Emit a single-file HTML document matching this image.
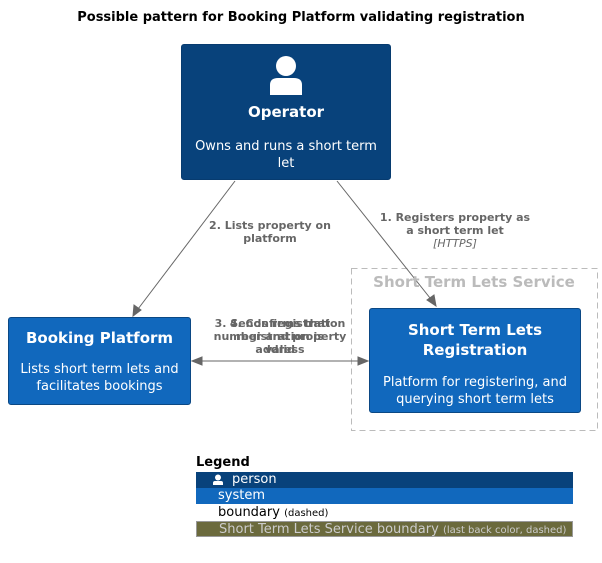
<!DOCTYPE html>
<html><head><style>
body{margin:0;width:602px;height:563px;background:#fff;font-family:"DejaVu Sans","Liberation Sans",sans-serif;position:relative;overflow:hidden}
.a{position:absolute}
.box{position:absolute;border-radius:3px;color:#fff;text-align:center;box-sizing:border-box}
.lbl{position:absolute;color:#666;font-size:11px;font-weight:bold;text-align:center;line-height:13px}
.lg{position:absolute;left:196px;width:377px;height:16px;font-size:13px;line-height:16px;box-sizing:border-box;padding-left:22px;white-space:nowrap;overflow:hidden}
</style></head><body>
<div class="a" style="left:0;width:602px;top:10px;text-align:center;font-weight:bold;font-size:13px">Possible pattern for Booking Platform validating registration</div>
<svg class="a" style="left:0;top:0" width="602" height="563">
<rect x="351.5" y="268.5" width="246" height="162" fill="none" stroke="#bbb" stroke-dasharray="6,4"/>
<g stroke="#666" stroke-width="1" fill="#666">
<line x1="235" y1="181" x2="135" y2="313"/>
<polygon points="133,316 134,305 141,310"/>
<line x1="337" y1="181" x2="434" y2="303"/>
<polygon points="436,306 427,300 434,295"/>
<line x1="195" y1="361" x2="365" y2="361"/>
<polygon points="192,361 202,357 202,365"/>
<polygon points="368,361 358,357 358,365"/>
</g>
</svg>
<div class="a" style="left:351px;width:246px;top:273px;text-align:center;color:#bbb;font-size:15px;font-weight:bold">Short Term Lets Service</div>
<div class="box" style="left:181px;top:44px;width:210px;height:136px;background:#08427b;border:1px solid #073b6f">
<svg width="34" height="40" style="margin-top:10px"><circle cx="17" cy="11" r="10" fill="#fff"/><path d="M1 40 V30 Q1 23 9 23 H25 Q33 23 33 30 V40 Z" fill="#fff"/></svg>
<div style="font-weight:bold;font-size:15px;margin-top:4px">Operator</div>
<div style="font-size:13px;margin-top:17px;line-height:17px">Owns and runs a short term<br>let</div></div>
<div class="box" style="left:8px;top:317px;width:183px;height:88px;background:#1168bd;border:1px solid #0b4884">
<div style="font-weight:bold;font-size:15px;margin-top:11px">Booking Platform</div>
<div style="font-size:13px;margin-top:14px;line-height:17px">Lists short term lets and<br>facilitates bookings</div></div>
<div class="box" style="left:369px;top:308px;width:212px;height:105px;background:#1168bd;border:1px solid #0b4884">
<div style="font-weight:bold;font-size:15px;margin-top:11px;line-height:20px">Short Term Lets<br>Registration</div>
<div style="font-size:13px;margin-top:14px;line-height:17px">Platform for registering, and<br>querying short term lets</div></div>
<div class="lbl" style="left:195px;width:150px;top:219px">2. Lists property on<br>platform</div>
<div class="lbl" style="left:375px;width:160px;top:211px">1. Registers property as<br>a short term let<br><i style="font-weight:normal">[HTTPS]</i></div>
<div class="lbl" style="left:200px;width:160px;top:317px">3. Sends registration<br>number and property<br>address</div>
<div class="lbl" style="left:200px;width:160px;top:317px">4. Confirms that<br>registration is<br>valid</div>
<div class="a" style="left:196px;top:455px;font-weight:bold;font-size:13px">Legend</div>
<div class="lg" style="top:472px;background:#08427b;color:#fff;padding-left:36px">person</div>
<svg class="a" style="left:212px;top:474px" width="12" height="12"><circle cx="6" cy="3.5" r="3" fill="#fff"/><path d="M1 11 V9 Q1 7 3 7 H9 Q11 7 11 9 V11Z" fill="#fff"/></svg>
<div class="lg" style="top:488px;background:#1168bd;color:#fff">system</div>
<div class="lg" style="top:505px;color:#000">boundary <span style="font-size:10px">(dashed)</span></div>
<div class="lg" style="top:521px;background:#6b6a3d;color:#ccc;border:1px solid #999">Short Term Lets Service boundary <span style="font-size:10px">(last back color, dashed)</span></div>
</body></html>
